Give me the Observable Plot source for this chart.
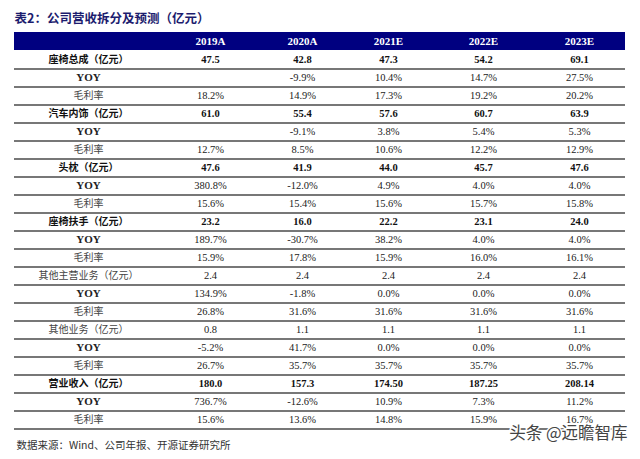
<!DOCTYPE html>
<html>
<head>
<meta charset="utf-8">
<script src="https://cdn.jsdelivr.net/npm/d3@7"></script>
<script src="https://cdn.jsdelivr.net/npm/@observablehq/plot@0.6"></script>
<style>
  html, body { margin: 0; padding: 0; background: #fff; }
</style>
</head>
<body>
<div id="chart"></div>
<script>
const title = "表2：公司营收拆分及预测（亿元）";
const source = "数据来源：Wind、公司年报、开源证券研究所";
const watermark = "头条 @远瞻智库";

const columns = ["2019A", "2020A", "2021E", "2022E", "2023E"];
const rowLabels = [
  "座椅总成（亿元）", "YOY", "毛利率",
  "汽车内饰（亿元）", "YOY", "毛利率",
  "头枕（亿元）", "YOY", "毛利率",
  "座椅扶手（亿元）", "YOY", "毛利率",
  "其他主营业务（亿元）", "YOY", "毛利率",
  "其他业务（亿元）", "YOY", "毛利率",
  "营业收入（亿元）", "YOY", "毛利率"
];
const boldRows = [0, 3, 6, 9, 18];

const v2019A = ["47.5", "", "18.2%", "61.0", "", "12.7%", "47.6", "380.8%", "15.6%", "23.2", "189.7%", "15.9%", "2.4", "134.9%", "26.8%", "0.8", "-5.2%", "26.7%", "180.0", "736.7%", "15.6%"];
const v2020A = ["42.8", "-9.9%", "14.9%", "55.4", "-9.1%", "8.5%", "41.9", "-12.0%", "15.4%", "16.0", "-30.7%", "17.8%", "2.4", "-1.8%", "31.6%", "1.1", "41.7%", "35.7%", "157.3", "-12.6%", "13.6%"];
const v2021E = ["47.3", "10.4%", "17.3%", "57.6", "3.8%", "10.6%", "44.0", "4.9%", "15.6%", "22.2", "38.2%", "15.9%", "2.4", "0.0%", "31.6%", "1.1", "0.0%", "35.7%", "174.50", "10.9%", "14.8%"];
const v2022E = ["54.2", "14.7%", "19.2%", "60.7", "5.4%", "12.2%", "45.7", "4.0%", "15.7%", "23.1", "4.0%", "16.0%", "2.4", "0.0%", "31.6%", "1.1", "0.0%", "35.7%", "187.25", "7.3%", "15.9%"];
const v2023E = ["69.1", "27.5%", "20.2%", "63.9", "5.3%", "12.9%", "47.6", "4.0%", "15.8%", "24.0", "4.0%", "16.1%", "2.4", "0.0%", "31.6%", "1.1", "0.0%", "35.7%", "208.14", "11.2%", "16.7%"];

const seriesByCol = {"2019A": v2019A, "2020A": v2020A, "2021E": v2021E, "2022E": v2022E, "2023E": v2023E};

// Build table for the library: column slot 0 = row labels, 1..5 = years
const rows = rowLabels.map((label, i) => ({
  key: "r" + i, label, i, slot: 0,
  bold: boldRows.includes(i),
  yoy: label === "YOY"
}));
const headers = columns.map((col, j) => ({col, slot: j + 1}));
const cells = [];
columns.forEach((col, j) => {
  seriesByCol[col].forEach((val, i) => {
    cells.push({col, slot: j + 1, key: "r" + i, val, bold: boldRows.includes(i)});
  });
});
const yDomain = ["h", ...rows.map(r => r.key)];

const W = 640, H = 459;
const mTop = 23, mBottom = 22, mLeft = 14, mRight = 15;
const bw = (H - mTop - mBottom) / yDomain.length;
const serif = "'Liberation Serif', 'Noto Sans CJK SC', serif";
const cjk = "'Noto Sans CJK SC', sans-serif";

const chart = Plot.plot({
  width: W, height: H,
  marginTop: mTop, marginBottom: mBottom, marginLeft: mLeft, marginRight: mRight,
  style: {fontFamily: serif, background: "#fff"},
  // piecewise: label column, then the five year columns
  x: {type: "linear", domain: [0, 1, 2, 3, 4, 5], range: [88, 210, 302, 388, 483, 579], axis: null},
  y: {type: "band", domain: yDomain, padding: 0, axis: null},
  marks: [
    Plot.cell(["h"], {y: d => d, fill: "#000080"}),
    Plot.ruleY(rows, {y: "key", dy: bw / 2, stroke: "#4a4a4a", strokeWidth: 1.5}),
    // header
    Plot.text(headers, {x: "slot", y: () => "h", text: "col", fill: "#fff", fontWeight: "bold", fontSize: 11}),
    // row labels
    Plot.text(rows, {filter: d => d.bold, x: "slot", y: "key", text: "label", textAnchor: "middle", fontFamily: cjk, fontWeight: "bold", fontSize: 10, fill: "#111"}),
    Plot.text(rows, {filter: d => d.yoy, x: "slot", y: "key", text: "label", textAnchor: "middle", fontWeight: "bold", fontSize: 11, fill: "#222"}),
    Plot.text(rows, {filter: d => !d.bold && !d.yoy, x: "slot", y: "key", text: "label", textAnchor: "middle", fontFamily: cjk, fontSize: 10, fill: "#444"}),
    // values
    Plot.text(cells, {filter: d => d.bold, x: "slot", y: "key", text: "val", fontWeight: "bold", fontSize: 10.5, fill: "#111"}),
    Plot.text(cells, {filter: d => !d.bold, x: "slot", y: "key", text: "val", fontSize: 10.5, fill: "#222"}),
    // title, source, watermark
    Plot.text([title], {text: d => d, frameAnchor: "top-left", dy: -9.5, textAnchor: "start", fontFamily: cjk, fontSize: 12.5, fontWeight: "bold", fill: "#1c1c6e"}),
    Plot.text([source], {text: d => d, frameAnchor: "bottom-left", dx: 2, dy: 11, textAnchor: "start", fontFamily: cjk, fontSize: 10.5, fill: "#333"}),
    Plot.text([watermark], {text: d => d, frameAnchor: "bottom-right", dx: 2, dy: 1, textAnchor: "end", fontSize: 16.5, fontFamily: cjk, fill: "#444", stroke: "#fff", strokeWidth: 3, paintOrder: "stroke"})
  ]
});
document.getElementById("chart").append(chart);
</script>
</body>
</html>
